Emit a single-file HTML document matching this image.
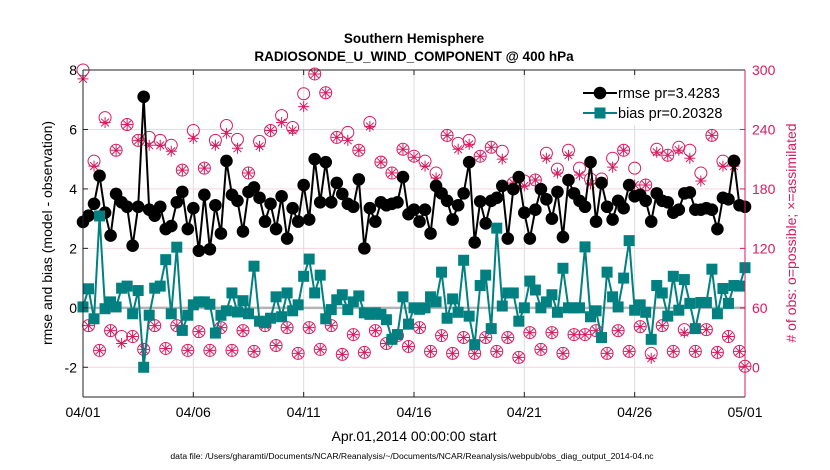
<!DOCTYPE html>
<html><head><meta charset="utf-8"><style>
body{margin:0;background:#fff;}
svg{display:block;font-family:"Liberation Sans",sans-serif;}
</style></head><body>
<svg id="chart" width="830" height="470" viewBox="0 0 830 470">
<text x="414" y="43" text-anchor="middle" font-size="13.5" font-weight="bold">Southern Hemisphere</text>
<text x="414" y="61" text-anchor="middle" font-size="13.5" font-weight="bold">RADIOSONDE_U_WIND_COMPONENT @ 400 hPa</text>
<g id="grid"></g><g id="marks"></g><g id="axes"></g>
<text transform="translate(52,233) rotate(-90)" text-anchor="middle" font-size="14">rmse and bias (model - observation)</text>
<text transform="translate(796,233) rotate(-90)" text-anchor="middle" font-size="14" fill="#d81b60"># of obs: o=possible; ×=assimilated</text>
<text x="414" y="441" text-anchor="middle" font-size="14">Apr.01,2014 00:00:00 start</text>
<text x="412" y="459" text-anchor="middle" font-size="8.6">data file: /Users/gharamti/Documents/NCAR/Reanalysis/~/Documents/NCAR/Reanalysis/webpub/obs_diag_output_2014-04.nc</text>
<g>
<rect x="578" y="79" width="162" height="46" fill="#fff"/>
<g><line x1="583" y1="93" x2="617" y2="93" stroke="#000" stroke-width="2"/><circle cx="600" cy="93" r="6.3" fill="#000"/><text x="618" y="98" font-size="14.5">rmse pr=3.4283</text></g>
<g><line x1="583" y1="113" x2="617" y2="113" stroke="#008080" stroke-width="2"/><rect x="594.5" y="107.5" width="11" height="11" fill="#008080"/><text x="618" y="118" font-size="14.5">bias pr=0.20328</text></g>
</g>
</svg>
<script>
const rmse=[2.89,3.1,3.5,4.44,3.2,2.43,3.83,3.55,3.4,2.09,3.4,7.1,3.3,3.1,3.4,2.65,2.75,3.55,3.9,2.65,3.35,1.92,3.8,1.97,3.45,2.5,4.94,3.8,3.6,2.57,
3.9,4.05,3.7,2.9,3.5,2.65,3.75,2.33,3.35,2.9,4.13,2.97,5.0,3.55,4.9,3.55,4.2,3.83,3.5,3.4,4.32,2.0,3.35,2.9,3.55,3.45,3.5,3.55,4.4,3.15,
3.3,2.9,3.3,2.5,4.1,3.85,3.6,2.97,3.45,3.85,4.9,2.2,3.58,2.84,3.6,3.7,4.1,2.33,3.99,4.4,3.2,2.33,3.3,3.99,3.65,3.0,3.9,2.38,4.3,3.85,
3.6,3.4,4.9,2.9,4.2,3.4,2.97,3.6,3.35,4.13,3.75,3.8,3.6,2.9,3.85,3.6,3.55,3.2,3.3,3.85,3.88,3.3,3.3,3.35,3.3,2.65,3.7,3.65,4.94,3.45,3.4];
const bias=[0.03,0.64,-0.37,3.09,-0.03,0.2,0.03,0.66,0.73,-0.2,0.58,-2.0,-0.25,0.66,0.73,1.62,-0.2,2.04,-0.76,-0.25,0.1,0.2,0.2,0.12,-0.85,-0.25,-0.1,0.5,-0.14,0.24,
-0.2,1.4,-0.45,-0.5,-0.35,0.37,-0.3,0.5,-0.1,0.1,1.06,1.64,0.5,1.1,-0.37,-0.06,0.27,0.44,-0.06,0.2,0.4,-0.17,-0.22,-0.17,-0.22,-0.4,-1.06,-0.9,0.37,-0.55,
0.0,-0.05,0.0,0.37,0.2,1.2,-0.35,0.3,-0.15,1.6,-0.28,-1.24,0.75,1.1,-0.7,2.68,0.06,0.5,0.5,-0.45,0.0,0.9,0.6,0.0,0.2,0.44,-0.15,1.33,0.0,0.0,
0.0,2.05,-0.3,-0.1,-1.0,1.2,0.37,0.03,1.0,2.26,-0.08,0.1,-0.15,-1.06,0.75,0.5,-0.28,1.06,-0.08,0.95,0.15,-0.7,0.18,0.18,1.3,-0.2,0.65,0.15,0.75,0.73,1.35];
const nPossible=[300,42,208,17,252,37,219,31,245,31,229,18,232,42,229,19,224,42,199,17,239,36,201,17,229,40,244,17,230,37,
196,16,228,42,239,22,254,40,242,14,276,40,296,18,277,42,232,13,237,33,219,15,247,37,207,24,196,32,220,21,
213,40,208,16,196,32,234,14,226,30,229,14,213,30,222,16,218,30,186,10,188,35,189,18,216,35,200,14,219,33,
201,33,190,37,190,14,211,37,219,16,201,41,184,14,220,42,214,16,222,38,219,16,196,38,234,15,208,31,208,16,1];
const nAssim=[291,42,203,17,247,37,219,24,245,31,229,18,224,42,224,19,218,42,199,17,231,36,201,17,224,40,236,17,221,37,
196,16,223,42,239,22,247,40,239,14,263,40,296,18,277,42,232,13,229,33,219,15,243,37,207,24,196,32,220,21,
212,40,203,16,191,32,234,14,220,30,225,14,213,30,222,16,210,30,186,10,183,35,189,18,211,35,196,14,214,33,
194,33,185,37,185,14,202,37,219,16,184,41,184,9,217,42,214,16,219,35,211,16,188,38,234,15,203,31,203,16,1];
const xTicks=["04/01","04/06","04/11","04/16","04/21","04/26","05/01"];
const leftTicks=[-2,0,2,4,6,8];
const rightTicks=[0,60,120,180,240,300];

const L=83,R=745,T=70,B=397,NS="http://www.w3.org/2000/svg";
const xOf=i=>L+i*(R-L)/120;
const yL=v=>B-(v+3)*(B-T)/11;
const yR=c=>B-(c+30)*(B-T)/330;
function mk(tag,attrs,parent){const e=document.createElementNS(NS,tag);for(const k in attrs)e.setAttribute(k,attrs[k]);parent.appendChild(e);return e;}
const grid=document.getElementById('grid'),marks=document.getElementById('marks'),axes=document.getElementById('axes');
mk('rect',{x:L,y:T,width:R-L,height:B-T,fill:'#fff'},grid);
xTicks.forEach((t,k)=>{const x=L+k*(R-L)/6;
 const g=mk('line',{x1:x,y1:T,x2:x,y2:B,stroke:'#dcdcdc','stroke-width':1},grid);
 
 
 mk('line',{x1:x,y1:B,x2:x,y2:B-5,stroke:'#222'},axes);
 mk('line',{x1:x,y1:T,x2:x,y2:T+5,stroke:'#222'},axes);
 const tx=mk('text',{x:x,y:B+20,'text-anchor':'middle','font-size':14},axes);tx.textContent=t;
 
 
});
rightTicks.forEach(c=>{const y=yR(c);
 const g=mk('line',{x1:L,y1:y,x2:R,y2:y,stroke:'#f3d6e0','stroke-width':1},grid);
 
 
 mk('line',{x1:R,y1:y,x2:R-5,y2:y,stroke:'#d81b60'},axes);
 const tx=mk('text',{x:R+7,y:y+5,'font-size':14,fill:'#d81b60'},axes);tx.textContent=c;
 
 
});
leftTicks.forEach(v=>{const y=yL(v);
 mk('line',{x1:L,y1:y,x2:L+5,y2:y,stroke:'#222'},axes);
 const tx=mk('text',{x:L-6,y:y+5,'text-anchor':'end','font-size':14},axes);tx.textContent=v;
 
 
});
const zl=mk('line',{x1:L,y1:yL(0),x2:R,y2:yL(0),stroke:'#b4b4b4','stroke-width':2.5},grid);


nPossible.forEach((c,i)=>{const x=xOf(i),y=yR(c);
 const e=mk('circle',{cx:x,cy:y,r:6,fill:'none',stroke:'#d81b60','stroke-width':1},marks);
 
 
});
nAssim.forEach((c,i)=>{const x=xOf(i),y=yR(c),s=5.5;
 const d=`M${x-s} ${y}H${x+s}M${x} ${y-s}V${y+s}M${x-s*0.7} ${y-s*0.7}L${x+s*0.7} ${y+s*0.7}M${x-s*0.7} ${y+s*0.7}L${x+s*0.7} ${y-s*0.7}`;
 const e=mk('path',{d:d,stroke:'#d81b60','stroke-width':1,fill:'none'},marks);
 
 
});
const rl=mk('polyline',{points:rmse.map((v,i)=>xOf(i)+','+yL(v)).join(' '),fill:'none',stroke:'#000','stroke-width':2},marks);


rmse.forEach((v,i)=>{const e=mk('circle',{cx:xOf(i),cy:yL(v),r:6.3,fill:'#000'},marks);
 
 });
const bl=mk('polyline',{points:bias.map((v,i)=>xOf(i)+','+yL(v)).join(' '),fill:'none',stroke:'#008080','stroke-width':2},marks);


bias.forEach((v,i)=>{const e=mk('rect',{x:xOf(i)-5.5,y:yL(v)-5.5,width:11,height:11,fill:'#008080'},marks);
 
 });
mk('line',{x1:L,y1:T,x2:R,y2:T,stroke:'#222'},axes);
mk('line',{x1:L,y1:B,x2:R,y2:B,stroke:'#222'},axes);
mk('line',{x1:L,y1:T,x2:L,y2:B,stroke:'#222'},axes);
mk('line',{x1:R,y1:T,x2:R,y2:B,stroke:'#d81b60'},axes);
</script>
</body></html>
